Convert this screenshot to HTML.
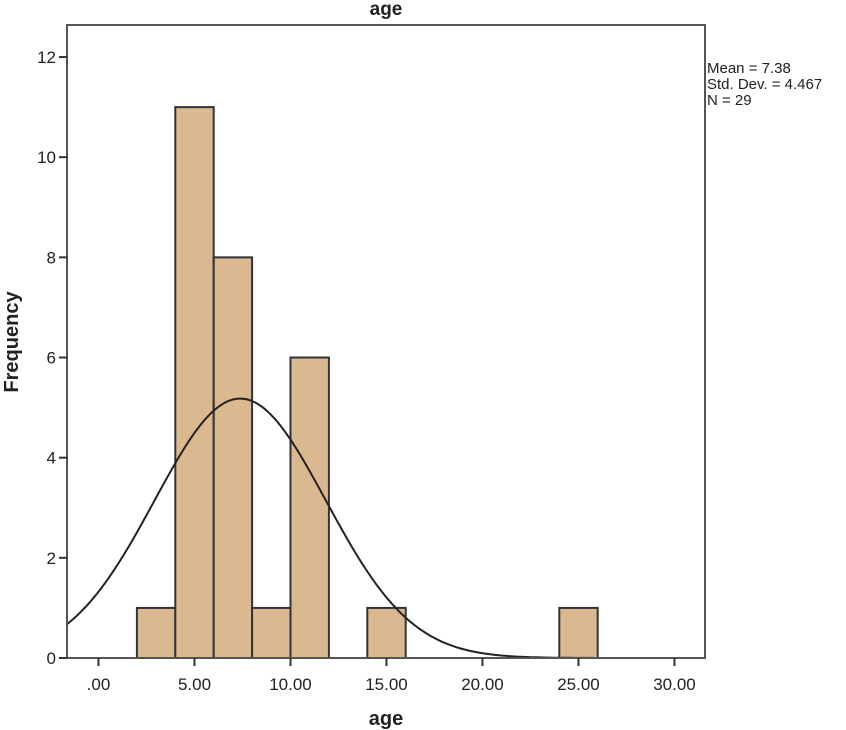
<!DOCTYPE html>
<html><head><meta charset="utf-8"><style>body{margin:0;background:#fff}svg{display:block}</style></head>
<body>
<svg id="s" width="846" height="730" xmlns="http://www.w3.org/2000/svg" font-family="Liberation Sans, Arial, sans-serif">
<rect width="846" height="730" fill="#fff"/>
<text x="386" y="15" font-size="19" font-weight="bold" text-anchor="middle" fill="#222">age</text>
<g id="bars" fill="#dbb990" stroke="#333" stroke-width="2"></g>
<path id="curve" fill="none" stroke="#222" stroke-width="2"/>
<rect x="67" y="25" width="638" height="633" fill="none" stroke="#555" stroke-width="2"/>
<g stroke="#333" stroke-width="2" id="ticks"></g>
<g font-size="17" fill="#222" id="labels"></g>
<text x="707" y="73" font-size="15" fill="#222">Mean = 7.38</text>
<text x="707" y="89" font-size="15" fill="#222">Std. Dev. = 4.467</text>
<text x="707" y="105" font-size="15" fill="#222">N = 29</text>
<text transform="translate(18,342) rotate(-90)" font-size="20" font-weight="bold" text-anchor="middle" fill="#222">Frequency</text>
<text x="386" y="725" font-size="20" font-weight="bold" text-anchor="middle" fill="#222">age</text>
</svg>
<script>
var NS="http://www.w3.org/2000/svg";
function X(v){return 98.5+v*19.2}function Y(f){return 658-f*50.08}
function el(p,t,a,txt){var e=document.createElementNS(NS,t);for(var k in a)e.setAttribute(k,a[k]);if(txt)e.textContent=txt;document.getElementById(p).appendChild(e);}
[[2,1],[4,11],[6,8],[8,1],[10,6],[14,1],[24,1]].forEach(function(b){el("bars","rect",{x:X(b[0]),y:Y(b[1]),width:38.4,height:b[1]*50.08});});
var d="";for(var px=67;px<=705;px+=2){var v=(px-98.5)/19.2;var f=29*2/(4.467*Math.sqrt(2*Math.PI))*Math.exp(-0.5*Math.pow((v-7.38)/4.467,2));d+=(px==67?"M":"L")+px+","+Y(f).toFixed(1);}
document.getElementById("curve").setAttribute("d",d);
for(var i=0;i<=12;i+=2){el("ticks","line",{x1:59,x2:67,y1:Y(i),y2:Y(i)});el("labels","text",{x:56,y:Y(i)+6,"text-anchor":"end"},String(i));}
var xl=[".00","5.00","10.00","15.00","20.00","25.00","30.00"];
for(var j=0;j<7;j++){el("ticks","line",{x1:X(j*5),x2:X(j*5),y1:658,y2:666});el("labels","text",{x:X(j*5),y:690,"text-anchor":"middle"},xl[j]);}
</script>
</body></html>
